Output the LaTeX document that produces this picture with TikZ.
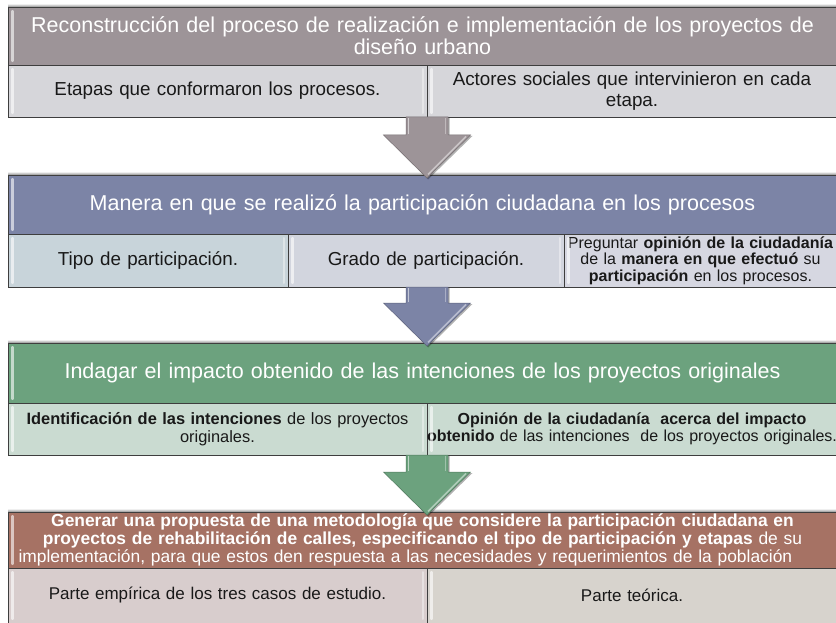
\documentclass[tikz,border=0pt]{standalone}
\usepackage{fontspec}
\setmainfont{Liberation Sans}
\usetikzlibrary{calc}
\definecolor{hA}{RGB}{157,148,152}
\definecolor{rA}{RGB}{214,214,218}
\definecolor{hB}{RGB}{124,132,166}
\definecolor{rB1}{RGB}{200,212,218}
\definecolor{rB2}{RGB}{210,213,222}
\definecolor{rB3}{RGB}{214,215,225}
\definecolor{hC}{RGB}{108,162,126}
\definecolor{rC}{RGB}{202,219,209}
\definecolor{hD}{RGB}{166,114,100}
\definecolor{rD1}{RGB}{216,205,205}
\definecolor{rD2}{RGB}{215,211,205}
\definecolor{edgec}{RGB}{62,62,62}
\definecolor{txtc}{RGB}{25,25,25}
\newcommand\fhead{\fontsize{21.5}{22}\selectfont}
\newcommand\frow{\fontsize{18.8}{20.5}\selectfont}
\newcommand\fsmall{\fontsize{16}{16.6}\selectfont}
\newcommand\fgen{\fontsize{17.4}{18}\selectfont}
\begin{document}
\begin{tikzpicture}[x=1pt,y=-1pt,
  cell/.style={draw=edgec, line width=0.9pt, anchor=north west, inner sep=0pt,
    outer sep=0pt, align=center, text=txtc, font=\frow},
  head/.style={cell, text=white, font=\fhead},
  hl/.style={white, opacity=0.6, line width=2.2pt, line cap=round},
  hlr/.style={white, opacity=0.4, line width=2pt, line cap=round},
  topshade/.style={top color=white, bottom color=black!45}]
\useasboundingbox (0,0) rectangle (836,623);
\fill[white] (0,0) rectangle (836,623);

% top shadows
\foreach \t in {7,175,343,512}{
  \shade[topshade] (8,\t-3.5) rectangle (840,\t);
}

% Box 1
\node[head, fill=hA, minimum width=829pt, minimum height=58pt, text width=820pt] (h1) at (8,7)
  {Reconstrucción del proceso de realización e implementación de los proyectos de\\diseño urbano};
\node[cell, fill=rA, minimum width=419pt, minimum height=52pt, text width=405pt] (c11) at (8,65)
  {Etapas que conformaron los procesos.};
\node[cell, fill=rA, minimum width=410pt, minimum height=52pt, text width=400pt] (c12) at (427,65)
  {Actores sociales que intervinieron en cada\\etapa.};

% Box 2
\node[head, fill=hB, minimum width=829pt, minimum height=59pt, text width=820pt] (h2) at (8,175)
  {Manera en que se realizó la participación ciudadana en los procesos};
\node[cell, fill=rB1, minimum width=280pt, minimum height=53pt, text width=270pt] (c21) at (8,234)
  {Tipo de participación.};
\node[cell, fill=rB2, minimum width=276pt, minimum height=53pt, text width=266pt] (c22) at (288,234)
  {Grado de participación.};
\node[cell, fill=rB3, minimum width=273pt, minimum height=53pt, text width=272pt, font=\fsmall] (c23) at (564,234)
  {Preguntar \textbf{opinión de la ciudadanía}\\de la \textbf{manera en que efectuó} su\\\textbf{participación} en los procesos.};

% Box 3
\node[head, fill=hC, minimum width=829pt, minimum height=60pt, text width=820pt] (h3) at (8,343)
  {Indagar el impacto obtenido de las intenciones de los proyectos originales};
\node[cell, fill=rC, minimum width=419pt, minimum height=52pt, text width=412pt, font=\fontsize{16.4}{18}\selectfont] (c31) at (8,403)
  {\textbf{Identificación de las intenciones} de los proyectos\\originales.};
\node[cell, fill=rC, minimum width=410pt, minimum height=52pt, text width=400pt, font=\fontsize{16}{17.5}\selectfont] (c32) at (427,403)
  {\textbf{Opinión de la ciudadanía\ \ acerca del impacto}\\\makebox[0pt]{\textbf{obtenido} de las intenciones\ \ de los proyectos originales.}};

% Box 4
\node[head, fill=hD, minimum width=829pt, minimum height=56pt, text width=828pt, font=\fgen] (h4) at (8,512)
  {\textbf{Generar una propuesta de una metodología que considere la participación ciudadana en}\\
   \textbf{proyectos de rehabilitación de calles, especificando el tipo de participación y etapas} de su\\
   \makebox[808pt][s]{implementación, para que estos den respuesta a las necesidades y requerimientos de la población}};
\node[cell, fill=rD1, minimum width=419pt, minimum height=55pt, text width=405pt, font=\fontsize{17}{19}\selectfont] (c41) at (8,568)
  {Parte empírica de los tres casos de estudio.};
\node[cell, fill=rD2, minimum width=410pt, minimum height=55pt, text width=400pt, font=\fontsize{17}{19}\selectfont] (c42) at (427,568)
  {Parte teórica.};

% bevel highlights
\foreach \n in {h1,c11,c12,h2,c21,c22,c23,h3,c31,c32,h4,c41,c42}{
  \draw[hl] ([xshift=4.5pt,yshift=-4pt]\n.north west) -- ([xshift=4.5pt,yshift=4pt]\n.south west);
}
\foreach \n in {c11,c21,c22,c31,c41}{
  \draw[hlr] ([xshift=-4.5pt,yshift=-4pt]\n.north east) -- ([xshift=-4.5pt,yshift=4pt]\n.south east);
}

% arrows
\coordinate (ax) at (427,0);
\foreach \a/\b/\c in {c11/h2/hA, c21/h3/hB, c31/h4/hC}{
  \fill[black, opacity=0.3] let \p1=(ax), \p2=(\a.south), \p3=(\b.north) in
    (\x1-20pt,\y2-1pt) -- (\x1+22.5pt,\y2-1pt) -- (\x1+22.5pt,\y3+39pt) -- (\x1+45.5pt,\y3+39pt)
    -- (\x1+1pt,\y3-4.5pt) -- (\x1-42pt,\y3+39pt) -- (\x1-20pt,\y3+39pt) -- cycle;
  \fill[\c, draw=\c!75!black, line width=0.5pt] let \p1=(ax), \p2=(\a.south), \p3=(\b.north) in
    (\x1-21pt,\y2) -- (\x1+21pt,\y2) -- (\x1+21pt,\y3+40pt) -- (\x1+43.5pt,\y3+40pt)
    -- (\x1,\y3-3pt) -- (\x1-43.5pt,\y3+40pt) -- (\x1-21pt,\y3+40pt) -- cycle;
  \draw[white, opacity=0.55, line width=1.6pt] let \p1=(ax), \p2=(\a.south), \p3=(\b.north) in
    (\x1-18.5pt,\y2-1pt) -- (\x1-18.5pt,\y3+41pt);
  \draw[white, opacity=0.35, line width=1.4pt] let \p1=(ax), \p2=(\a.south), \p3=(\b.north) in
    (\x1+18.5pt,\y2-1pt) -- (\x1+18.5pt,\y3+41pt);
  \draw[white, opacity=0.45, line width=1.5pt] let \p1=(ax), \p2=(\a.south), \p3=(\b.north) in
    (\x1+39pt,\y3+38.5pt) -- (\x1+1pt,\y3+0.5pt);
}
\end{tikzpicture}
\end{document}
